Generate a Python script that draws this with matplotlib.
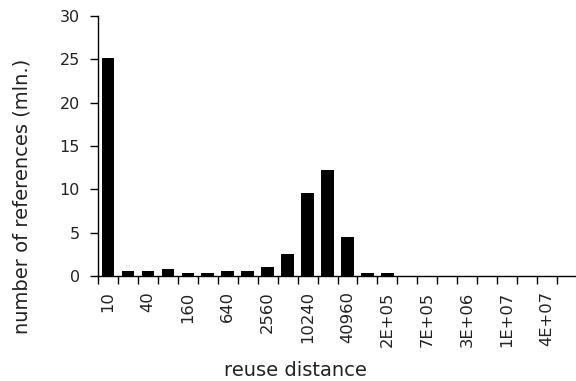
import matplotlib
matplotlib.use("Agg")
import matplotlib.pyplot as plt
import numpy as np

# reuse distance buckets (10 * 2^k), only every other one is labelled
labels = ["10", "", "40", "", "160", "", "640", "", "2560", "", "10240", "",
          "40960", "", "2E+05", "", "7E+05", "", "3E+06", "", "1E+07", "", "4E+07", ""]
refs_mln = [25.2, 0.6, 0.6, 0.8, 0.4, 0.4, 0.6, 0.6, 1.05, 2.5, 9.6, 12.2,
            4.5, 0.35, 0.35, 0, 0, 0, 0, 0, 0, 0, 0, 0]

plt.rcParams["font.family"] = "DejaVu Sans"

fig = plt.figure(figsize=(5.76, 3.81), dpi=100)
ax = fig.add_axes([98 / 576, 105 / 381, 479 / 576, 260 / 381])

x = np.arange(len(refs_mln))
ax.bar(x, refs_mln, width=0.63, color="black")

ax.set_xlim(-0.5, len(refs_mln) - 0.5)
ax.set_ylim(0, 30)
ax.set_yticks([0, 5, 10, 15, 20, 25, 30])

# labels at bar centres, tick marks between categories
ax.set_xticks(x)
ax.set_xticklabels(labels, rotation=90, fontsize=11.8, color="#222222")
ax.tick_params(axis="x", which="major", length=0, pad=11)
ax.set_xticks(x - 0.5, minor=True)
ax.tick_params(axis="x", which="minor", length=6, width=1, color="black")
ax.tick_params(axis="y", length=6, width=1, labelsize=11.5, pad=7, labelcolor="#222222")

for side in ["top", "right"]:
    ax.spines[side].set_visible(False)
for side in ["left", "bottom"]:
    ax.spines[side].set_linewidth(1)

fig.text(295 / 576, 1 - 370 / 381, "reuse distance", ha="center", va="center",
         fontsize=14, color="#222222")
fig.text(22 / 576, 1 - 196 / 381, "number of references (mln.)", rotation=90,
         ha="center", va="center", fontsize=14, color="#222222")

fig.savefig("out.png", dpi=100)
